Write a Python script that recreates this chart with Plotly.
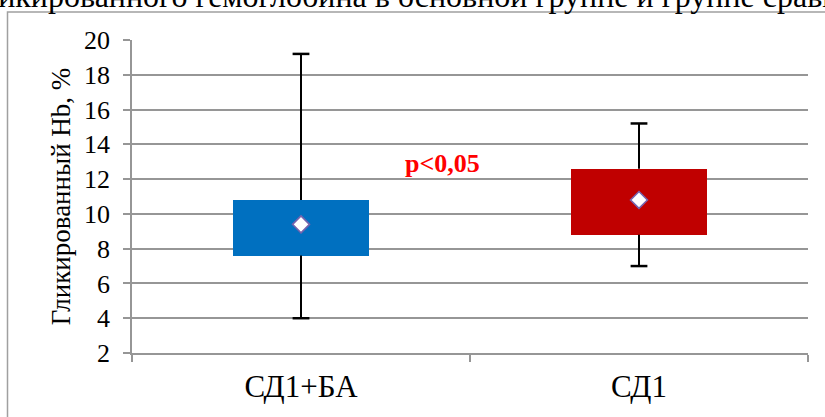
import plotly.graph_objects as go

# Glycated haemoglobin by group: min, Q1, mean, Q3, max
groups = ["СД1+БА", "СД1"]
q_min = [4.0, 7.0]
q1 = [7.6, 8.8]
mean = [9.4, 10.8]
q3 = [10.8, 12.6]
q_max = [19.2, 15.2]
box_colors = ["#0070C0", "#C00000"]
y_ticks = [2, 4, 6, 8, 10, 12, 14, 16, 18, 20]
title_text = "Уровень гликированного гемоглобина в основной группе и группе сравнения"
y_title = "Гликированный Hb, %"
p_label = "p<0,05"

FONT = "Liberation Serif, Times New Roman, serif"
W, H = 825, 417
ML, MR, MT, MB = 132, 17, 40, 64
PW, PH = W - ML - MR, H - MT - MB


def px_to_paper_x(px):
    return (px - ML) / PW


def px_to_paper_y(py):
    return (H - MB - py) / PH


fig = go.Figure()

# Interquartile boxes
fig.add_trace(go.Bar(
    x=groups,
    base=q1,
    y=[b - a for a, b in zip(q1, q3)],
    width=0.4,
    marker=dict(color=box_colors, line=dict(width=0)),
    hoverinfo="skip",
    showlegend=False,
))

# Whiskers: segments outside the boxes
wx, wy = [], []
for g, lo, a, b, hi in zip(groups, q_min, q1, q3, q_max):
    wx += [g, g, None, g, g, None]
    wy += [b, hi, None, lo, a, None]
fig.add_trace(go.Scatter(
    x=wx, y=wy, mode="lines",
    line=dict(color="black", width=2),
    hoverinfo="skip", showlegend=False,
))

# Whisker caps
fig.add_trace(go.Scatter(
    x=groups + groups,
    y=q_min + q_max,
    mode="markers",
    marker=dict(symbol="line-ew", size=12,
                line=dict(color="black", width=2.5)),
    hoverinfo="skip", showlegend=False,
))

# Mean markers
fig.add_trace(go.Scatter(
    x=groups, y=mean, mode="markers",
    marker=dict(symbol="diamond", size=13, color="white",
                line=dict(color="#7563ad", width=1.6)),
    showlegend=False,
))

# Outer frame of the chart
fig.add_shape(
    type="rect", xref="paper", yref="paper",
    x0=px_to_paper_x(7.5), x1=px_to_paper_x(W + 10),
    y0=px_to_paper_y(H + 10), y1=px_to_paper_y(12),
    line=dict(color="#a0a0a0", width=1.5),
    fillcolor="rgba(0,0,0,0)", layer="below",
)

fig.add_annotation(
    text=title_text, xref="paper", yref="paper",
    x=px_to_paper_x(-152), y=px_to_paper_y(-3.5),
    xanchor="left", yanchor="middle", showarrow=False,
    font=dict(family=FONT, size=32, color="black"),
)

fig.add_annotation(
    text=f"<b>{p_label}</b>", xref="paper", yref="y",
    x=px_to_paper_x(442), y=12.9,
    xanchor="center", yanchor="middle", showarrow=False,
    font=dict(family=FONT, size=26, color="#ff0000"),
)

fig.update_layout(
    width=W, height=H,
    margin=dict(l=ML, r=MR, t=MT, b=MB, pad=0),
    paper_bgcolor="white", plot_bgcolor="white",
    font=dict(family=FONT, size=26, color="black"),
    bargap=0,
    xaxis=dict(
        type="category", range=[-0.5, 1.5],
        showline=True, linecolor="#969696", linewidth=1.5,
        ticks="outside", tickson="boundaries", ticklen=7,
        tickcolor="#969696", tickwidth=1.5,
        showgrid=False, zeroline=False,
        tickfont=dict(family=FONT, size=31),
        ticklabelstandoff=5,
    ),
    yaxis=dict(
        range=[2, 20], tickvals=y_ticks,
        showline=True, linecolor="#969696", linewidth=1.5,
        ticks="outside", ticklen=7, tickcolor="#969696", tickwidth=1.5,
        showgrid=True, gridcolor="#969696", gridwidth=1.5,
        zeroline=False,
        tickfont=dict(family=FONT, size=26),
        ticklabelstandoff=8,
        title=dict(text=y_title, font=dict(family=FONT, size=27), standoff=6),
    ),
)

fig.write_html("out.html")
